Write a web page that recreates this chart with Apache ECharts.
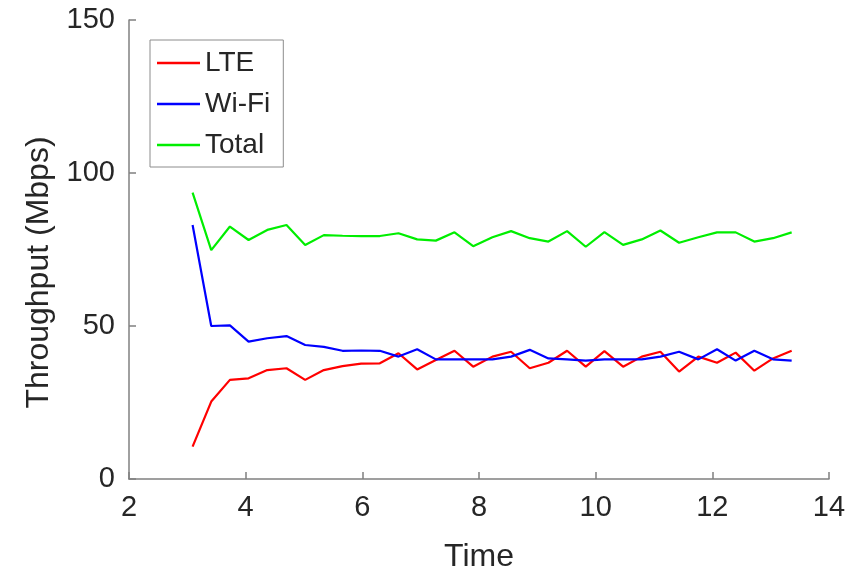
<!DOCTYPE html>
<html>
<head>
<meta charset="utf-8">
<script src="https://cdn.jsdelivr.net/npm/echarts@6/dist/echarts.min.js"></script>
<style>
  html, body { margin: 0; padding: 0; background: #fff; }
  #chart { width: 860px; height: 579px; }
</style>
</head>
<body>
<div id="chart"></div>
<script>
// time samples (x)
const time = [3.09, 3.41, 3.73, 4.05, 4.37, 4.70, 5.02, 5.34, 5.66, 5.98, 6.30,
  6.62, 6.94, 7.26, 7.58, 7.90, 8.23, 8.55, 8.87, 9.19, 9.51, 9.83, 10.15,
  10.47, 10.79, 11.11, 11.43, 11.76, 12.08, 12.40, 12.72, 13.04, 13.36];

const lte = [10.6, 25.3, 32.4, 32.9, 35.6, 36.2, 32.4, 35.6, 36.9, 37.7, 37.8,
  41.1, 35.8, 38.9, 41.9, 36.7, 40.0, 41.6, 36.2, 38.0, 41.9, 36.7, 41.8,
  36.7, 40.0, 41.6, 35.1, 40.0, 38.0, 41.3, 35.4, 39.4, 41.9];

const wifi = [83.0, 50.0, 50.2, 44.9, 46.0, 46.7, 43.8, 43.2, 41.9, 42.0, 41.9,
  40.0, 42.4, 39.1, 39.1, 39.1, 39.1, 40.0, 42.2, 39.4, 39.1, 38.7, 39.1,
  39.1, 39.1, 40.0, 41.6, 39.1, 42.4, 38.7, 41.9, 39.1, 38.7];

const total = [93.6, 74.8, 82.5, 78.1, 81.4, 83.0, 76.5, 79.7, 79.5, 79.4, 79.4,
  80.3, 78.3, 77.9, 80.6, 76.1, 79.0, 81.0, 78.7, 77.6, 81.0, 75.9, 80.7,
  76.5, 78.3, 81.2, 77.2, 79.0, 80.6, 80.6, 77.6, 78.7, 80.6];

const seriesNames = ['LTE', 'Wi-Fi', 'Total'];

const pairs = (ys) => time.map((t, i) => [t, ys[i]]);

const myChart = echarts.init(document.getElementById('chart'));
const font = 'Liberation Sans, Arial, sans-serif';
const axisColor = '#808080';
const textColor = '#262626';

const option = {
  animation: false,
  grid: { left: 129, right: 31, top: 20, bottom: 100 },
  legend: {
    orient: 'vertical',
    left: 150,
    top: 40,
    padding: [9, 13, 8, 7],
    icon: 'rect',
    itemWidth: 43,
    itemHeight: 2.5,
    itemGap: 13,
    backgroundColor: '#fff',
    borderColor: '#8c8c8c',
    borderWidth: 1,
    borderRadius: 0,
    textStyle: { fontFamily: font, fontSize: 28, color: textColor, lineHeight: 27 },
    data: seriesNames
  },
  xAxis: {
    type: 'value',
    min: 2,
    max: 14,
    interval: 2,
    name: 'Time',
    nameLocation: 'middle',
    nameGap: 62,
    nameTextStyle: { fontFamily: font, fontSize: 32, color: textColor },
    axisLine: { onZero: false, lineStyle: { color: axisColor, width: 1.5 } },
    axisTick: { inside: true, length: 7, lineStyle: { color: axisColor, width: 1.5 } },
    axisLabel: { fontFamily: font, fontSize: 29, color: textColor, margin: 14 },
    splitLine: { show: false }
  },
  yAxis: {
    type: 'value',
    min: 0,
    max: 150,
    interval: 50,
    name: 'Throughput (Mbps)',
    nameLocation: 'middle',
    nameGap: 74,
    nameTextStyle: { fontFamily: font, fontSize: 32, color: textColor, padding: [0, 46, 0, 0] },
    axisLine: { show: true, lineStyle: { color: axisColor, width: 1.5 } },
    axisTick: { show: true, inside: true, length: 7, lineStyle: { color: axisColor, width: 1.5 } },
    axisLabel: { fontFamily: font, fontSize: 29, color: textColor, margin: 14 },
    splitLine: { show: false }
  },
  series: [
    { name: 'LTE', type: 'line', data: pairs(lte), color: '#ff0000' },
    { name: 'Wi-Fi', type: 'line', data: pairs(wifi), color: '#0000ff' },
    { name: 'Total', type: 'line', data: pairs(total), color: '#00ee00' }
  ].map(s => Object.assign(s, {
    symbol: 'none',
    lineStyle: { width: 2.2, color: s.color },
    itemStyle: { color: s.color }
  }))
};

option && myChart.setOption(option);
</script>
</body>
</html>
